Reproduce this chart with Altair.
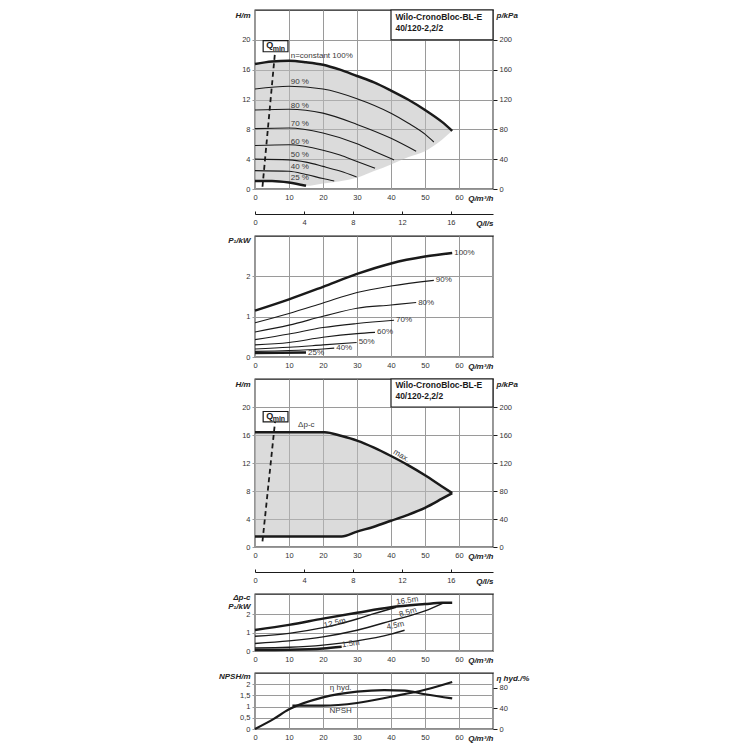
import pandas as pd
import altair as alt

# ---------------- values ----------------
# Q in m³/h, H in m, P1 in kW, NPSH in m, eta in %

# constant-speed head curves (panel 1)
Q_N100 = [0, 5, 10, 15, 20, 25, 30, 35, 40, 45, 50, 55, 58]
H_N100 = [16.75, 17.1, 17.19, 17.0, 16.67, 16.0, 15.15, 14.3, 13.2, 12.0, 10.6, 9.0, 7.8]
Q_N90 = [0, 10, 20, 30, 40, 45, 50, 52.6]
H_N90 = [13.4, 13.77, 13.4, 12.1, 10.15, 8.85, 7.35, 6.3]
Q_N80 = [0, 10, 20, 30, 40, 47.4]
H_N80 = [10.6, 10.7, 10.17, 8.66, 6.8, 5.06]
Q_N70 = [0, 10, 20, 30, 35, 40.9]
H_N70 = [8.1, 8.18, 7.5, 6.06, 5.06, 3.9]
Q_N60 = [0, 10, 20, 25, 30, 35.3]
H_N60 = [5.84, 5.93, 5.2, 4.55, 3.68, 2.8]
Q_N50 = [0, 10, 15, 20, 25, 29.9]
H_N50 = [4.0, 3.9, 3.6, 3.03, 2.4, 1.6]
Q_N40 = [0, 10, 15, 20, 23.3]
H_N40 = [2.47, 2.38, 1.95, 1.4, 1.08]
Q_N25 = [0, 5, 10, 15]
H_N25 = [1.08, 1.08, 0.87, 0.43]
# lower edge of the grey working range, at Q_N100
H_RANGE_LOW = [1.08, 1.08, 0.87, 0.43, 0.75, 1.05, 1.5, 2.4, 3.3, 4.25, 5.06, 6.6, 7.8]
N_LABELS = ["n=constant 100%", "90 %", "80 %", "70 %", "60 %", "50 %", "40 %", "25 %"]
N_LABEL_Q = [10.5] * 8
N_LABEL_H = [17.85, 14.3, 11.17, 8.66, 6.36, 4.55, 2.94, 1.43]

# Qmin line
QMIN_Q = [2.2, 5.9]
QMIN_H1 = [0.3, 18.4]
QMIN_H3 = [0.8, 17.9]

# power curves (panel 2)
Q_P100 = [0, 10, 20, 30, 40, 50, 58]
P_P100 = [1.15, 1.43, 1.74, 2.06, 2.32, 2.49, 2.58]
Q_P90 = [0, 10, 20, 30, 40, 52.6]
P_P90 = [0.85, 1.08, 1.34, 1.6, 1.76, 1.9]
Q_P80 = [0, 10, 20, 30, 40, 47.4]
P_P80 = [0.62, 0.79, 1.01, 1.21, 1.29, 1.35]
Q_P70 = [0, 10, 20, 30, 40.9]
P_P70 = [0.43, 0.57, 0.73, 0.83, 0.91]
Q_P60 = [0, 10, 20, 30, 35.3]
P_P60 = [0.30, 0.36, 0.49, 0.58, 0.61]
Q_P50 = [0, 10, 20, 29.9]
P_P50 = [0.20, 0.24, 0.30, 0.36]
Q_P40 = [0, 10, 20, 23.3]
P_P40 = [0.14, 0.16, 0.20, 0.22]
Q_P25 = [0, 15]
P_P25 = [0.10, 0.11]
P_LABELS = ["100%", "90%", "80%", "70%", "60%", "50%", "40%", "25%"]

# delta-p-c range (panel 3)
Q_DP = [0, 20.5, 25.5, 30, 35, 40, 45, 50, 55, 58]
H_DP_MAX = [16.4, 16.4, 15.85, 15.2, 14.2, 13.0, 11.7, 10.25, 8.65, 7.7]
H_DP_MIN = [1.5, 1.5, 1.5, 2.2, 2.9, 3.75, 4.6, 5.6, 6.9, 7.7]

# delta-p-c power curves (panel 4)
Q_D165 = [0, 10, 20, 30, 40, 50, 55, 58]
P_D165 = [1.14, 1.42, 1.76, 2.08, 2.38, 2.55, 2.62, 2.63]
Q_D125 = [0, 10, 20, 25, 30, 35, 41.5]
P_D125 = [0.80, 0.96, 1.27, 1.48, 1.74, 2.03, 2.38]
Q_D85 = [0, 10, 20, 30, 40, 50, 55.5]
P_D85 = [0.41, 0.55, 0.77, 1.13, 1.64, 2.18, 2.62]
Q_D45 = [0, 10, 20, 30, 40, 44]
P_D45 = [0.16, 0.20, 0.32, 0.55, 0.92, 1.13]
Q_D15 = [0, 10, 20, 25.5]
P_D15 = [0.05, 0.07, 0.14, 0.23]
D_LABELS = ["16.5m", "12.5m", "8.5m", "4.5m", "1.5m"]
D_LABEL_Q = [44.8, 23.5, 45.0, 41.3, 28.2]
D_LABEL_P = [2.72, 1.5, 2.09, 1.37, 0.38]
D_LABEL_ANGLE = [352, 346, 343, 348, 352]

# NPSH and hydraulic efficiency (panel 5)
Q_ETA = [0, 5.4, 10, 20, 30, 38, 44, 50, 58]
ETA = [0, 19, 38, 61, 72, 75, 74, 67, 59]
Q_NPSH = [11, 20, 30, 40, 50, 58]
NPSH = [1.04, 1.04, 1.16, 1.44, 1.75, 2.1]

LS_TICKS = [0, 4, 8, 12, 16]
TYPE_LINES = ["Wilo-CronoBloc-BL-E", "40/120-2,2/2"]

# ---------------- styling ----------------
W = 238
FONT = "Liberation Sans, Arial, sans-serif"
INK = "#1a1a1a"
GRID = "#9a9a9a"
LABEL = "#3a3a3a"


def curves(series):
    rows = []
    for name, qs, vs in series:
        rows += [{"curve": name, "q": q, "v": v} for q, v in zip(qs, vs)]
    return pd.DataFrame(rows)


def x_enc():
    return alt.X("q:Q", scale=alt.Scale(domain=[0, 70], nice=False),
                 axis=alt.Axis(values=list(range(0, 71, 10)),
                               labelExpr="datum.value > 60 ? '' : datum.label",
                               grid=True, gridColor=GRID, domain=False, tickSize=0,
                               labelPadding=4, labelFlush=False, labelOverlap=False,
                               title="Q/m³/h", titleX=W, titleY=9, titleAlign="right",
                               titleBaseline="middle"))


def y_enc(domain, values, title, title_y=5, field="v", label_expr=None, **kw):
    ax = dict(values=values, grid=True, gridColor=GRID, domain=False, tickSize=3,
              tickColor=GRID, labelPadding=2, labelOverlap=False, labelFlush=False,
              title=title, titleAngle=0, titleX=-5, titleY=title_y,
              titleAlign="right", titleBaseline="middle")
    if label_expr:
        ax["labelExpr"] = label_expr
    ax.update(kw)
    return alt.Y(f"{field}:Q", scale=alt.Scale(domain=domain, nice=False), axis=alt.Axis(**ax))


def right_enc(field, domain, values, title):
    return alt.Y(f"{field}:Q", scale=alt.Scale(domain=domain, nice=False),
                 axis=alt.Axis(orient="right", values=values, grid=False, domain=False,
                               tickSize=4, tickColor=INK, labelPadding=2, labelFlush=False,
                               title=title, titleAngle=0, titleX=3, titleY=5,
                               titleAlign="left", titleBaseline="middle"))


def lines(df, y, width, **kw):
    return alt.Chart(df).mark_line(color=INK, strokeWidth=width, interpolate="monotone", **kw).encode(
        x=x_enc(), y=y, detail="curve:N")


def texts(df, y, **kw):
    style = dict(font=FONT, fontSize=8, color=LABEL)
    style.update(kw)
    return alt.Chart(df).mark_text(**style).encode(x=x_enc(), y=y, text="t:N")


def head_extras(y, qmin_h, box_lo, box_hi):
    """Qmin dashed line + boxes shared by both head panels."""
    qmin = lines(curves([("qmin", QMIN_Q, qmin_h)]), y, 1.8, strokeDash=[5, 3.5])
    qbox = alt.Chart(pd.DataFrame({"q": [2.4], "q2": [9.7], "v": [box_lo], "v2": [box_hi]})).mark_rect(
        fill="white", stroke=INK, strokeWidth=1.2).encode(x=x_enc(), x2="q2", y=y, y2="v2")
    mid = (box_lo + box_hi) / 2
    q_txt = texts(pd.DataFrame({"q": [3.3], "v": [mid + 0.15], "t": ["Q"]}), y,
                  align="left", baseline="middle", fontSize=9, fontWeight="bold", color=INK)
    min_txt = texts(pd.DataFrame({"q": [5.2], "v": [mid - 0.35], "t": ["min"]}), y,
                    align="left", baseline="middle", fontSize=7, fontWeight="bold", color=INK)
    tbox = alt.Chart(pd.DataFrame({"q": [40], "q2": [70], "v": [20], "v2": [24]})).mark_rect(
        fill="white", stroke=INK, strokeWidth=1.2).encode(x=x_enc(), x2="q2", y=y, y2="v2")
    ttxt = texts(pd.DataFrame({"q": [41.3, 41.3], "v": [23.1, 21.6], "t": TYPE_LINES}), y,
                 align="left", baseline="middle", fontSize=8.5, fontWeight="bold", color=INK)
    return [qmin, qbox, q_txt, min_txt, tbox, ttxt]


def ls_panel():
    return alt.Chart(pd.DataFrame({"ls": LS_TICKS})).mark_point(opacity=0).encode(
        x=alt.X("ls:Q", scale=alt.Scale(domain=[0, 70 / 3.6], nice=False),
                axis=alt.Axis(values=LS_TICKS, grid=True, gridColor=INK, gridWidth=1,
                              domain=True, domainColor=INK, domainWidth=1.2, tickSize=0,
                              labelPadding=4, labelFlush=False,
                              title="Q/l/s", titleX=W, titleY=9, titleAlign="right",
                              titleBaseline="middle"))
    ).properties(width=W, height=3, view=alt.ViewBackground(strokeOpacity=0))


# ---------------- panel 1: H over Q, constant speed ----------------
h1 = y_enc([0, 24], [0, 4, 8, 12, 16, 20], "H/m")
range_df = pd.DataFrame({"q": Q_N100, "v": H_N100, "v2": H_RANGE_LOW})
fill1 = alt.Chart(range_df).mark_area(color="#bdbdbd", opacity=0.55, interpolate="monotone").encode(
    x=x_enc(), y=h1, y2="v2")
thin1 = lines(curves([("90", Q_N90, H_N90), ("80", Q_N80, H_N80), ("70", Q_N70, H_N70),
                      ("60", Q_N60, H_N60), ("50", Q_N50, H_N50), ("40", Q_N40, H_N40)]), h1, 1.1)
thick1 = lines(curves([("100", Q_N100, H_N100), ("25", Q_N25, H_N25)]), h1, 2.5)
lab1 = texts(pd.DataFrame({"q": N_LABEL_Q, "v": N_LABEL_H, "t": N_LABELS}), h1,
             align="left", baseline="middle")
kpa1 = alt.Chart(range_df).transform_calculate(p="datum.v * 10").mark_line(opacity=0).encode(
    x=x_enc(), y=right_enc("p", [0, 240], list(range(0, 201, 40)), "p/kPa"))
panel1 = alt.layer(
    alt.layer(fill1, thin1, thick1, *head_extras(h1, QMIN_H1, 18.4, 19.9), lab1),
    kpa1).resolve_scale(y="independent").properties(width=W, height=179)

# ---------------- panel 2: P1 over Q ----------------
p2 = y_enc([0, 3], [0, 1, 2], "P₁/kW", title_y=4)
thin2 = lines(curves([("90", Q_P90, P_P90), ("80", Q_P80, P_P80), ("70", Q_P70, P_P70),
                      ("60", Q_P60, P_P60), ("50", Q_P50, P_P50), ("40", Q_P40, P_P40)]), p2, 1.1)
thick2 = lines(curves([("100", Q_P100, P_P100), ("25", Q_P25, P_P25)]), p2, 2.5)
ends_q = [Q_P100[-1], Q_P90[-1], Q_P80[-1], Q_P70[-1], Q_P60[-1], Q_P50[-1], Q_P40[-1], Q_P25[-1]]
ends_p = [P_P100[-1], P_P90[-1], P_P80[-1], P_P70[-1], P_P60[-1], P_P50[-1], P_P40[-1], P_P25[-1]]
lab2 = texts(pd.DataFrame({"q": ends_q, "v": ends_p, "t": P_LABELS}), p2,
             align="left", baseline="middle", dx=2)
panel2 = alt.layer(thin2, thick2, lab2).properties(width=W, height=121)

# ---------------- panel 3: delta-p-c range ----------------
h3 = y_enc([0, 24], [0, 4, 8, 12, 16, 20], "H/m")
dp_df = pd.DataFrame({"q": Q_DP, "v": H_DP_MAX, "v2": H_DP_MIN})
fill3 = alt.Chart(dp_df).mark_area(color="#bdbdbd", opacity=0.55, interpolate="monotone").encode(
    x=x_enc(), y=h3, y2="v2")
edge3 = lines(curves([("max", Q_DP, H_DP_MAX), ("min", Q_DP, H_DP_MIN)]), h3, 2.5)
lab3a = texts(pd.DataFrame({"q": [15.1], "v": [17.4], "t": ["Δp-c"]}), h3,
              align="center", baseline="middle")
lab3b = texts(pd.DataFrame({"q": [43.0], "v": [13.0], "t": ["max."]}), h3,
              align="center", baseline="middle", angle=31)
kpa3 = alt.Chart(dp_df).transform_calculate(p="datum.v * 10").mark_line(opacity=0).encode(
    x=x_enc(), y=right_enc("p", [0, 240], list(range(0, 201, 40)), "p/kPa"))
panel3 = alt.layer(
    alt.layer(fill3, edge3, *head_extras(h3, QMIN_H3, 17.87, 19.36), lab3a, lab3b),
    kpa3).resolve_scale(y="independent").properties(width=W, height=168)

# ---------------- panel 4: P1 over Q at delta-p-c ----------------
p4 = y_enc([0, 3.1], [0, 1, 2], ["Δp-c", "P₁/kW"], title_y=-1,
           titleBaseline="top", titleLineHeight=9)
mid4 = lines(curves([("12.5", Q_D125, P_D125), ("8.5", Q_D85, P_D85), ("4.5", Q_D45, P_D45)]), p4, 1.4)
thick4 = lines(curves([("16.5", Q_D165, P_D165), ("1.5", Q_D15, P_D15)]), p4, 2.5)
lab4 = [texts(pd.DataFrame({"q": [q], "v": [p], "t": [t]}), p4, align="center",
              baseline="middle", angle=a)
        for t, q, p, a in zip(D_LABELS, D_LABEL_Q, D_LABEL_P, D_LABEL_ANGLE)]
panel4 = alt.layer(mid4, thick4, *lab4).properties(width=W, height=57)

# ---------------- panel 5: NPSH and eta ----------------
n5 = y_enc([0, 2.5], [0, 0.5, 1, 1.5, 2], "NPSH/m", title_y=3.5,
           label_expr="replace(format(datum.value, ''), '.', ',')")
npsh5 = lines(curves([("npsh", Q_NPSH, NPSH)]), n5, 2.2)
lab5 = texts(pd.DataFrame({"q": [25.2, 25.2], "v": [1.81, 0.79], "t": ["η hyd.", "NPSH"]}), n5,
             align="center", baseline="middle")
eta_df = pd.DataFrame({"q": Q_ETA, "eta": ETA})
eta5 = alt.Chart(eta_df).mark_line(color=INK, strokeWidth=2.2, interpolate="monotone").encode(
    x=x_enc(), y=right_enc("eta", [0, 108], [0, 40, 80], "η hyd./%"))
panel5 = alt.layer(alt.layer(npsh5, lab5), eta5).resolve_scale(y="independent").properties(
    width=W, height=56)

chart = alt.vconcat(
    panel1, ls_panel(), panel2, panel3, ls_panel(), panel4, panel5,
    spacing=22, bounds="flush"
).properties(
    padding={"left": 209, "top": 0, "right": 4, "bottom": 0}
).configure_view(
    stroke=INK, strokeWidth=1.3
).configure_axis(
    labelFont=FONT, labelFontSize=7.5, labelColor="#333",
    titleFont=FONT, titleFontSize=8, titleFontWeight="bold", titleFontStyle="italic",
    titleColor="#222"
)

chart.save("out.html", embed_options={"renderer": "svg", "actions": False})
